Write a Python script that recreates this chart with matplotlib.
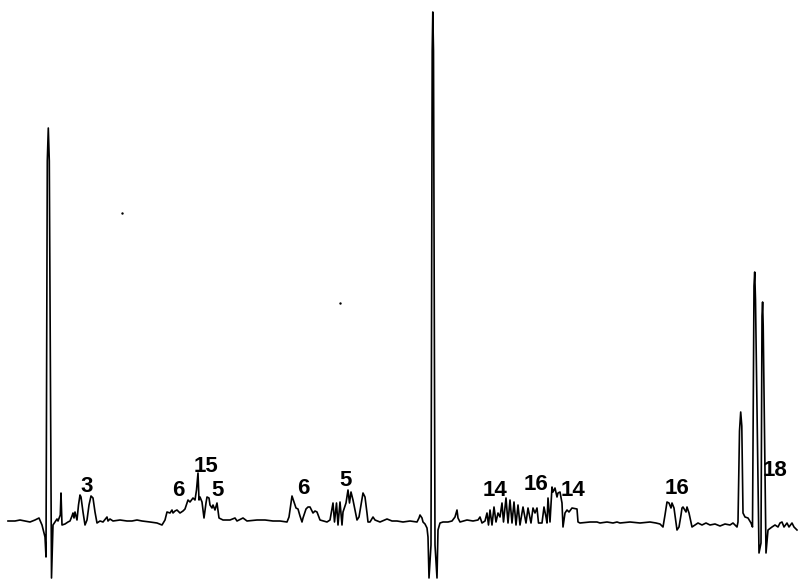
import matplotlib
matplotlib.use("Agg")
import matplotlib.pyplot as plt

# Spectrum trace: chemical-shift position (chart units) and signal intensity
trace_x = [
    8, 15, 20, 25, 30, 35, 39, 42, 45, 46, 47.3, 48.3, 49.3, 51.5, 53, 55, 57, 58,
    60.3, 61, 62, 65, 68, 70, 72, 73, 74, 75, 77, 78.5, 80, 81, 83, 85, 87,
    89, 91, 93, 95, 97, 100, 103, 107, 108, 110, 113, 120, 127, 132,
    137, 142, 150, 157, 162, 165, 167, 170, 172, 173, 175, 177, 180, 183,
    185, 187, 188, 190, 193, 195, 196.5, 198, 199, 200, 202, 204, 206, 207,
    209, 210, 212, 213, 215, 217, 219, 223, 230, 235, 237, 243, 247, 257,
    265, 273, 280, 287, 289, 291, 292, 294, 296, 298, 300, 302, 303, 306,
    308, 310, 313, 315, 317, 320, 327, 330, 333, 334.5, 336.5, 338, 340,
    342, 343, 346, 348, 349.5, 351, 353, 355, 357, 359, 361, 363, 365, 367,
    368, 370, 373, 375, 380, 387, 392,
    397, 403, 410, 417, 419, 420, 422, 423, 425, 427, 428, 429, 431, 432.2,
    432.8, 433.5, 435, 437, 438, 440, 443, 448, 452, 455, 457, 458, 460, 467, 473,
    478, 480, 482, 485, 487, 488.5, 490, 492, 494, 496, 498, 500, 502,
    503.5, 506, 508, 510, 512, 514, 516, 518, 520, 523, 526, 528, 531, 533,
    535, 537, 538.5, 542, 544, 546, 547, 548, 550, 552, 553, 555, 557, 558,
    560, 562, 563, 565, 567, 569, 572, 577, 578, 580, 590, 597, 600, 607,
    613, 617, 620, 630, 640, 650, 656, 660, 663, 665, 667, 669, 671, 672,
    674, 677, 679, 681, 682, 683, 686, 687, 689, 692, 695, 698, 702, 706,
    710, 715, 720, 725, 730, 733, 737, 738, 739.5, 740.7, 741.8, 743, 745, 748, 751,
    752.5, 754, 754.7, 755.5, 759, 761, 762, 762.6, 763.2, 766, 768, 772, 775, 778, 780,
    782, 784, 787, 789, 792, 794, 797,
]
trace_y = [
    0, 0, 1, 0, -1, 1, 3, -4, -16, -36, 360, 393, 360, -57, -4, -1, 2, 0,
    6, 28, -4, -3, -1, 0, 5, 8, 3, 9, 1, 16, 26, 24, 9, -4, 1,
    16, 25, 23, 9, -2, 0, -1, 4, 0, 2, 0, 1, 0, 0,
    1, 0, -1, -2, -4, 1, 9, 8, 11, 8, 10, 11, 8, 10,
    12, 18, 21, 19, 23, 21, 31, 48, 21, 24, 19, 3, 18, 24,
    23, 16, 13, 16, 11, 18, 3, 1, 1, 3, 0, 3, 0, 1,
    1, 0, 0, -1, 4, 18, 25, 19, 13, 12, 5, -1, 3, 12,
    14, 14, 8, 10, 9, 1, -1, 1, 18, -1, 18, -4, 19,
    -4, 9, 18, 31, 18, 29, 21, 11, 1, 4, 16, 28, 24, 8,
    -1, -1, 4, 1, -1, 2, 0,
    0, -1, 0, -1, 3, 6, 3, -1, -3, -7, -16, -57, -24, 470,
    509, 470, -24, -57, -9, -2, -1, -1, 0, 4, 11, 3, -1, 1, 0,
    1, 4, -2, 0, 8, -4, 11, -4, 14, -1, 8, 4, 18,
    -1, 23, -2, 21, -2, 19, -4, 16, -4, 14, -2, 13, -2, 13,
    8, 13, -2, -2, 14, 4, -2, 23, -1, 34, 29, 33, 24, 28,
    29, 18, -6, 8, 11, 9, 13, 12, -1, -2, -1, -1, -2, -1,
    -2, -1, -2, -1, -2, -1, -2, -3, -6, 6, 19, 18, 13, 18,
    13, -9, -6, 6, 13, 14, 9, 14, 8, -6, -4, -2, -4, -2,
    -4, -3, -5, -3, -4, -2, -6, -1, 90, 109, 95, 8, 4, 3, -2,
    -6, 235, 249, 221, -32, -22, 205, 219, 195, -32, -9, -6, -4, -6, -2,
    -1, -6, -2, -6, -2, -6, -9,
]

# Peak assignment labels
label_text = ["3", "6", "15", "5", "6", "5", "14", "16", "14", "16", "18"]
label_x = [87, 178, 206, 218, 303, 346, 495, 536, 573, 677, 775]
label_y = [35, 31, 54, 31, 32, 41, 31, 37, 31, 32, 51]

# Stray specks on the chart paper
speck_x = [122, 340]
speck_y = [308, 218]

fig = plt.figure(figsize=(7.98, 5.80), dpi=100)
ax = fig.add_axes([0, 0, 1, 1])
ax.set_xlim(0, 798)
ax.set_ylim(-59, 521)
ax.axis("off")

ax.plot(trace_x, trace_y, color="black", lw=1.2, solid_joinstyle="round")
ax.scatter(speck_x, speck_y, s=3, color="black", linewidths=0)

for t, x, y in zip(label_text, label_x, label_y):
    ax.text(x, y, t, ha="center", va="center", fontsize=16,
            fontweight="bold", family="Liberation Sans", color="black")

fig.savefig("out.png", dpi=100)
